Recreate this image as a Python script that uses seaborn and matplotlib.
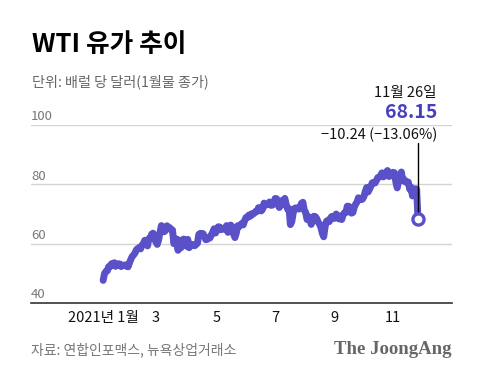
import numpy as np
import pandas as pd
import matplotlib.pyplot as plt
import seaborn as sns

# WTI daily closes 2021 (front month), one list per month of trading days
jan = [47.62, 49.93, 50.63, 50.83, 52.24, 52.25, 53.21, 52.91, 53.57, 52.36,
       52.98, 53.24, 53.13, 52.27, 52.77, 52.61, 52.85, 52.34, 52.20]
feb = [53.55, 54.76, 55.69, 56.23, 56.85, 57.97, 58.36, 58.68, 58.24, 59.47,
       60.05, 61.14, 60.52, 59.24, 61.70, 61.67, 63.22, 63.53, 61.50]
mar = [60.64, 59.75, 61.28, 63.83, 66.09, 65.05, 64.01, 64.44, 66.02, 65.61,
       65.39, 64.80, 64.60, 60.00, 61.42, 61.55, 57.76, 61.18, 58.56, 60.97,
       61.56, 60.55, 59.16]
apr = [61.45, 58.65, 59.33, 59.77, 59.60, 59.32, 59.70, 60.18, 63.15, 63.46,
       63.13, 63.38, 62.44, 61.35, 61.43, 62.14, 61.91, 62.94, 63.86, 65.01, 63.58]
may = [64.49, 65.69, 65.63, 64.71, 64.90, 64.92, 65.28, 66.08, 63.82, 65.37,
       66.27, 65.49, 63.36, 62.05, 63.58, 66.05, 65.76, 66.21, 66.85, 66.32]
jun = [67.72, 68.83, 68.81, 69.62, 69.23, 70.05, 69.96, 70.29, 70.91, 70.88,
       72.12, 72.15, 71.04, 71.64, 73.66, 73.06, 73.08, 73.30, 74.05, 72.91,
       72.98, 73.47]
jul = [75.23, 75.16, 73.37, 72.20, 72.94, 74.56, 74.10, 75.25, 73.13, 71.65,
       71.81, 66.42, 67.42, 70.30, 71.91, 72.07, 71.91, 71.65, 72.39, 73.62, 73.95]
aug = [71.26, 70.56, 68.15, 69.09, 68.28, 66.48, 68.29, 69.25, 69.09, 68.44,
       67.29, 66.59, 65.46, 63.50, 62.32, 65.64, 67.54, 67.86, 67.42, 68.74,
       69.21, 68.50]
sep = [68.59, 69.99, 69.29, 68.35, 69.30, 68.14, 69.72, 70.45, 70.46, 72.61,
       72.61, 71.97, 70.29, 70.49, 72.23, 73.30, 73.98, 75.45, 75.29, 74.83, 75.03]
oct_ = [75.88, 77.62, 78.93, 77.43, 78.30, 79.35, 80.52, 80.64, 80.44, 81.31,
        82.28, 82.44, 82.96, 83.87, 82.50, 83.76, 83.76, 84.65, 82.66, 82.81, 83.57]
nov = [84.05, 83.91, 80.86, 78.81, 81.27, 81.93, 84.15, 81.34, 81.59, 80.79,
       80.88, 80.76, 78.36, 79.01, 76.10, 76.75, 78.50, 78.39, 68.15]

months = [jan, feb, mar, apr, may, jun, jul, aug, sep, oct_, nov]
major_labels = ["2021년 1월", "3", "5", "7", "9", "11"]
y_ticks = [40, 60, 80, 100]

last_date = "11월 26일"
last_value = "68.15"
change_text = "\u221210.24 (\u221213.06%)"

title = "WTI 유가 추이"
subtitle = "단위: 배럴 당 달러(1월물 종가)"
source = "자료: 연합인포맥스, 뉴욕상업거래소"
brand = "The JoongAng"

prices = [p for m in months for p in m]
df = pd.DataFrame({"idx": np.arange(len(prices)), "price": prices})
month_starts = np.cumsum([0] + [len(m) for m in months[:-1]])

line_color = "#5a50c8"
accent = "#4a3ec0"

sns.set_style("white")
plt.rcParams['font.family'] = ['Noto Sans CJK KR', 'DejaVu Sans']

fig = plt.figure(figsize=(4.8, 3.78), dpi=100)
ax = fig.add_axes([31 / 480, 75 / 378, 421 / 480, 178 / 378])

for v in y_ticks[1:]:
    ax.axhline(v, color="#d4d4d4", lw=1, zorder=0)

sns.lineplot(data=df, x="idx", y="price", ax=ax, color=line_color, lw=5,
             solid_capstyle="round", solid_joinstyle="round", clip_on=False)

last_x = df["idx"].iloc[-1]
ax.plot([last_x, last_x], [df["price"].iloc[-1], 93.9], color="black", lw=1,
        clip_on=False, zorder=3)
ax.plot([last_x], [df["price"].iloc[-1]], marker="o", ms=8, mfc="white",
        mec=line_color, mew=2.4, clip_on=False, zorder=4)

ax.set_xlim(-52, 251.5)
ax.set_ylim(40, 100)
ax.set_xlabel("")
ax.set_ylabel("")
ax.set_yticks([])

ax.set_xticks(month_starts[::2], major_labels)
ax.set_xticks(month_starts[1::2], minor=True)
ax.tick_params(axis="x", which="major", direction="in", length=13, width=1,
               color="#222222", pad=6, labelsize=10.5, labelcolor="#111111")
ax.tick_params(axis="x", which="minor", direction="in", length=6, width=1,
               color="#222222")

for s in ["top", "right", "left"]:
    ax.spines[s].set_visible(False)
ax.spines["bottom"].set_color("#333333")
ax.spines["bottom"].set_linewidth(1.2)

for v in y_ticks:
    ax.text(0, v + 0.6, str(v), transform=ax.get_yaxis_transform(),
            ha="left", va="bottom", fontsize=9.5, color="#777777")

fig.text(32 / 480, 1 - 45 / 378, title, fontsize=18.5, fontweight="bold",
         ha="left", va="center", color="black")
fig.text(32 / 480, 1 - 82 / 378, subtitle, fontsize=10.2, ha="left",
         va="center", color="#666666")

fig.text(437 / 480, 1 - 93 / 378, last_date, fontsize=10.5, ha="right",
         va="center", color="#111111")
fig.text(437 / 480, 1 - 113 / 378, last_value, fontsize=14, fontweight="bold",
         ha="right", va="center", color=accent)
fig.text(437 / 480, 1 - 135 / 378, change_text, fontsize=10.5, ha="right",
         va="center", color="#111111")

fig.text(31 / 480, 1 - 350 / 378, source, fontsize=10, ha="left",
         va="center", color="#777777")
fig.text(452 / 480, 1 - 350 / 378, brand, fontsize=13.5, fontweight="bold",
         ha="right", va="center", color="#666666", family="Liberation Serif")

fig.savefig("out.png", dpi=100)
